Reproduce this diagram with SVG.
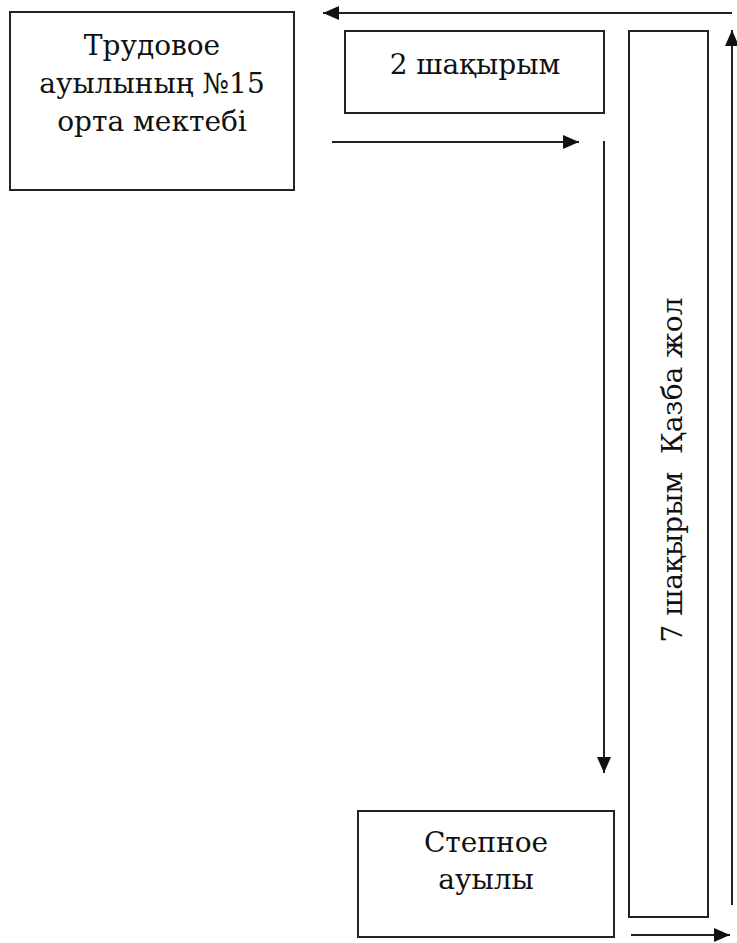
<svg xmlns="http://www.w3.org/2000/svg" width="737" height="943" viewBox="0 0 737 943">
<style>
.box{fill:#fff;stroke:#222;stroke-width:2}
.con{fill:none;stroke:#222;stroke-width:2}
.lbl{font-family:'DejaVu Serif','Liberation Serif',serif;font-size:28px;fill:#111;text-anchor:middle}
</style>
<defs>
<marker id="ah" markerUnits="userSpaceOnUse" markerWidth="16" markerHeight="14" refX="16" refY="7" orient="auto">
<path d="M0,0 L16,7 L0,14 z" fill="#111"/>
</marker>
</defs>
<rect width="737" height="943" fill="#fff"/>
<g id="school">
<rect class="box" x="10" y="12" width="284" height="178"/>
<text class="lbl" x="152" y="55">Трудовое</text>
<text class="lbl" x="152" y="93">ауылының №15</text>
<text class="lbl" x="152" y="131">орта мектебі</text>
</g>
<g id="dist2">
<rect class="box" x="345" y="31" width="259" height="82"/>
<text class="lbl" x="475" y="74">2 шақырым</text>
</g>
<g id="road">
<rect class="box" x="629" y="31" width="79" height="886"/>
<text class="lbl" transform="translate(682,470) rotate(-90)" x="0" y="0" xml:space="preserve">7 шақырым  Қазба жол</text>
</g>
<g id="stepnoe">
<rect class="box" x="358" y="811" width="256" height="126"/>
<text class="lbl" x="486" y="852">Степное</text>
<text class="lbl" x="486" y="889">ауылы</text>
</g>
<g id="connectors">
<path class="con" d="M732 13 H323" marker-end="url(#ah)"/>
<path class="con" d="M332 142 H579" marker-end="url(#ah)"/>
<path class="con" d="M604 141 V773" marker-end="url(#ah)"/>
<path class="con" d="M732 905 V30" marker-end="url(#ah)"/>
<path class="con" d="M631 935 H730" marker-end="url(#ah)"/>
</g>
</svg>
